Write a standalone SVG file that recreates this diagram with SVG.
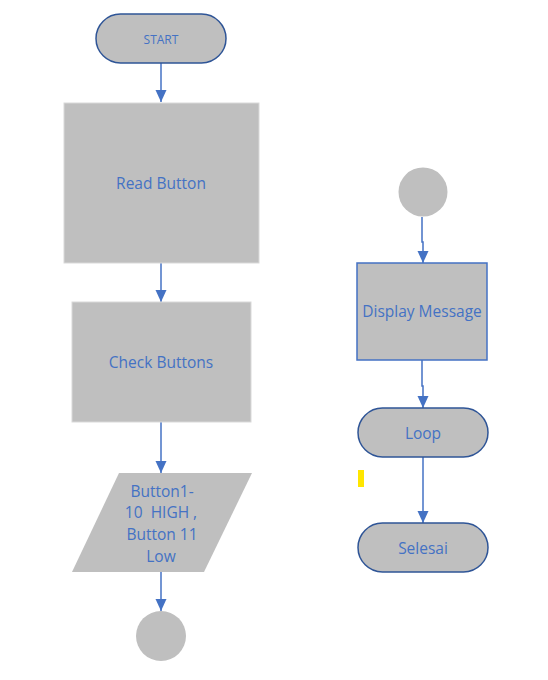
<svg xmlns="http://www.w3.org/2000/svg" width="548" height="680" viewBox="0 0 548 680">
<style>
.term{fill:#BFBFBF;stroke:#2F5597;stroke-width:1.5}
.box{fill:#BFBFBF;stroke:#D9D9D9;stroke-width:1}
.boxb{fill:#BFBFBF;stroke:#4472C4;stroke-width:1.5}
.circ{fill:#BFBFBF}
.t{font-family:"Open Sans","Liberation Sans",sans-serif;fill:#4472C4;text-anchor:middle;dominant-baseline:central;font-size:15.5px}
.c{fill:none;stroke:#4472C4;stroke-width:1.5}
</style>
<defs>
<marker id="ah" viewBox="0 0 12 12" refX="12" refY="6" markerWidth="12" markerHeight="12" markerUnits="userSpaceOnUse" orient="auto">
<path d="M0,0.5 L12,6 L0,11.5 Z" fill="#4472C4"/>
</marker>
</defs>
<rect width="548" height="680" fill="#FFFFFF"/>
<g id="connectors">
<path class="c" d="M161,63 V102" marker-end="url(#ah)"/>
<path class="c" d="M161,263 V302" marker-end="url(#ah)"/>
<path class="c" d="M161,422 V473" marker-end="url(#ah)"/>
<path class="c" d="M161,572 V611" marker-end="url(#ah)"/>
<path class="c" d="M422,217 V242 H423 V263" marker-end="url(#ah)"/>
<path class="c" d="M422,360 V386 H423 V408" marker-end="url(#ah)"/>
<path class="c" d="M423,457 V523" marker-end="url(#ah)"/>
</g>
<g id="start">
<rect class="term" x="96" y="14" width="130" height="49" rx="24.5"/>
<text class="t" x="161" y="39" style="font-size:12px">START</text>
</g>
<g id="read-button">
<rect class="box" x="64" y="103" width="195" height="160"/>
<text class="t" x="161" y="183">Read Button</text>
</g>
<g id="check-buttons">
<rect class="box" x="72" y="302" width="179" height="120"/>
<text class="t" x="161" y="362">Check Buttons</text>
</g>
<g id="condition">
<polygon class="circ" points="119,473 252,473 204,572 72,572"/>
<text class="t" x="162" y="491">Button1-</text>
<text class="t" x="161" y="512" xml:space="preserve">10  HIGH ,</text>
<text class="t" x="162" y="534">Button 11</text>
<text class="t" x="161" y="556">Low</text>
</g>
<g id="connector-left">
<circle class="circ" cx="161" cy="636" r="25"/>
</g>
<g id="connector-right">
<circle class="circ" cx="423" cy="192" r="24.5"/>
</g>
<g id="display-message">
<rect class="boxb" x="357" y="263" width="130" height="97"/>
<text class="t" x="422" y="311">Display Message</text>
</g>
<g id="loop">
<rect class="term" x="358" y="408" width="130" height="49" rx="24.5"/>
<text class="t" x="423" y="433">Loop</text>
</g>
<rect x="358" y="470" width="6" height="17" fill="#FFE600"/>
<g id="selesai">
<rect class="term" x="358" y="523" width="130" height="49" rx="24.5"/>
<text class="t" x="423" y="548">Selesai</text>
</g>
</svg>
